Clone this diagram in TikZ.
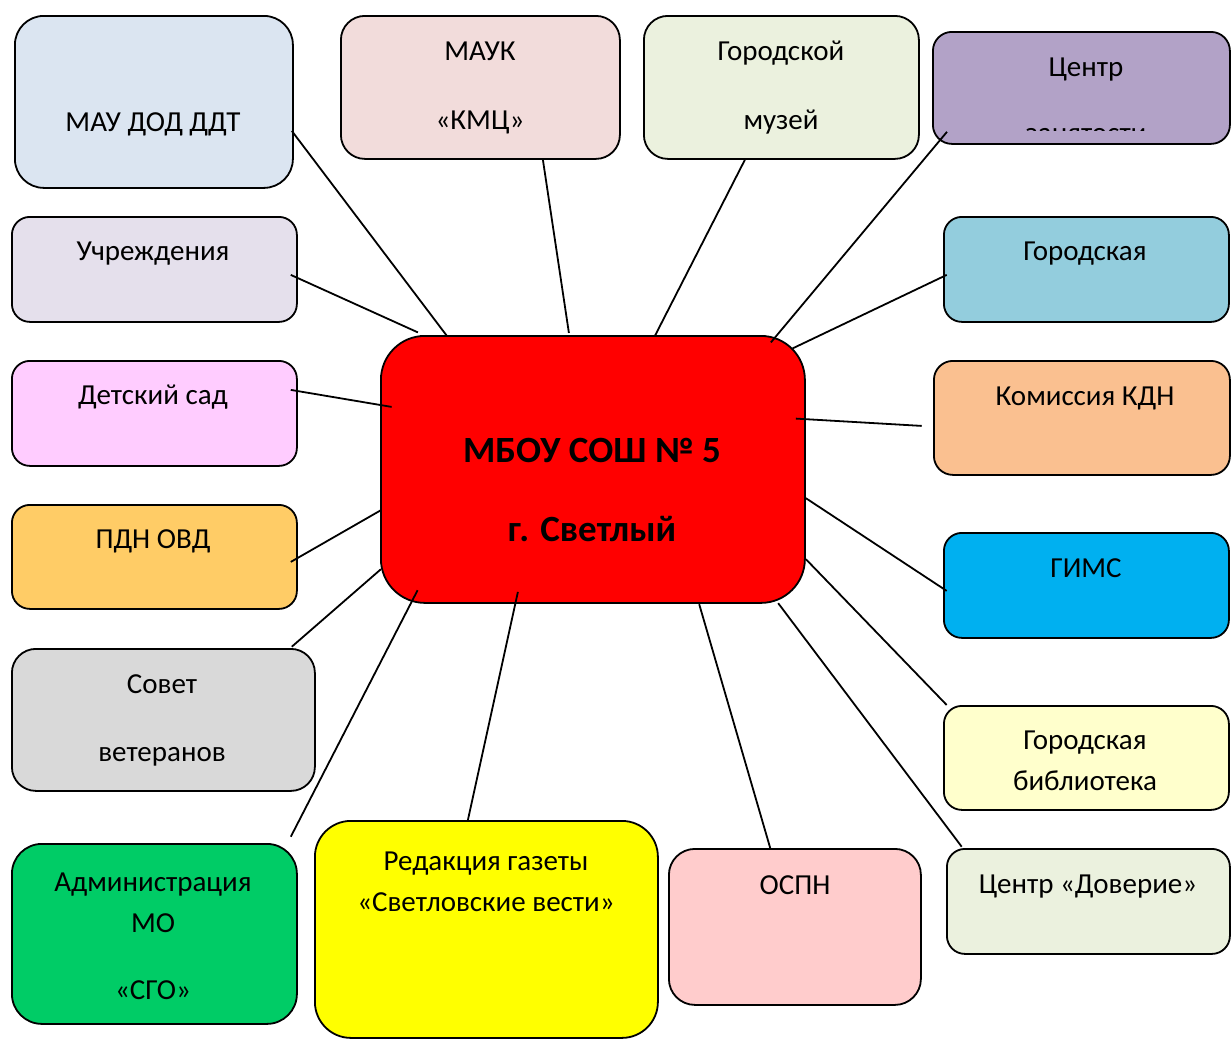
\documentclass[tikz,border=0pt]{standalone}
\usepackage{fontspec}
\setmainfont{Carlito}
\usetikzlibrary{calc}

\definecolor{ddtblue}{RGB}{219,229,241}
\definecolor{kmcpink}{RGB}{242,220,219}
\definecolor{paleolive}{RGB}{235,241,222}
\definecolor{lavender}{RGB}{178,162,199}
\definecolor{palelilac}{RGB}{229,224,236}
\definecolor{aqua}{RGB}{147,205,221}
\definecolor{pinklilac}{RGB}{255,204,255}
\definecolor{apricot}{RGB}{250,192,144}
\definecolor{goldish}{RGB}{255,204,102}
\definecolor{skyblue}{RGB}{0,176,240}
\definecolor{lightgrey}{RGB}{217,217,217}
\definecolor{cream}{RGB}{255,255,204}
\definecolor{grassgreen}{RGB}{0,204,102}
\definecolor{lemon}{RGB}{255,255,0}
\definecolor{rosepink}{RGB}{255,204,204}
\definecolor{schoolred}{RGB}{255,0,0}

\begin{document}
\begin{tikzpicture}[x=1pt,y=-1pt,
  box/.style={draw, line width=1.8pt, rounded corners=#1, anchor=north west, inner sep=0pt},
  lbl/.style={font=\fontsize{29}{41}\selectfont, align=center, anchor=base},
  link/.style={line width=1.8pt}]
  \useasboundingbox (0,0) rectangle (1231,1039);

  % partner boxes
  \node[box=29, fill=ddtblue,    minimum width=278, minimum height=172] (ddt)     at (14,15)  {};
  \node[box=24, fill=kmcpink,    minimum width=279, minimum height=143] (kmc)     at (340,15) {};
  \node[box=24, fill=paleolive,  minimum width=275, minimum height=143] (muzej)   at (643,15) {};
  \node[box=19, fill=lavender,   minimum width=297, minimum height=112] (centr)   at (932,31) {};
  \node[box=18, fill=palelilac,  minimum width=285, minimum height=105] (uchr)    at (11,216) {};
  \node[box=18, fill=aqua,       minimum width=285, minimum height=105] (gorod)   at (943,216) {};
  \node[box=18, fill=pinklilac,  minimum width=285, minimum height=105] (sad)     at (11,360) {};
  \node[box=19, fill=apricot,    minimum width=296, minimum height=114] (kdn)     at (933,360) {};
  \node[box=18, fill=goldish,    minimum width=285, minimum height=104] (pdn)     at (11,504) {};
  \node[box=18, fill=skyblue,    minimum width=285, minimum height=105] (gims)    at (943,532) {};
  \node[box=24, fill=lightgrey,  minimum width=303, minimum height=142] (sovet)   at (11,648) {};
  \node[box=18, fill=cream,      minimum width=285, minimum height=104] (bibl)    at (943,705) {};
  \node[box=30, fill=grassgreen, minimum width=285, minimum height=180] (adm)     at (11,843) {};
  \node[box=36, fill=lemon,      minimum width=343, minimum height=217] (red)     at (314,820) {};
  \node[box=26, fill=rosepink,   minimum width=252, minimum height=156] (ospn)    at (668,848) {};
  \node[box=18, fill=paleolive,  minimum width=283, minimum height=105] (doverie) at (946,848) {};

  % school in the middle
  \node[box=44, fill=schoolred, minimum width=424, minimum height=267] (school) at (380,335) {};

  % texts (base = last line)
  \node[lbl] (ddt-t)     at (153,131)  {МАУ ДОД ДДТ};
  \node[lbl] (kmc-t)     at (480,129)  {МАУК\\[28pt]«КМЦ»};
  \node[lbl] (muzej-t)   at (781,129)  {Городской\\[28pt]музей};
  \node[lbl] (centr-t)   at (1086,76)  {Центр};
  \begin{scope}
    \clip (932,31) rectangle (1231,130);
    \node[lbl] (centr-t2) at (1086,142.5) {занятости};
  \end{scope}
  \node[lbl] (uchr-t)    at (153,260)  {Учреждения};
  \node[lbl] (gorod-t)   at (1085,260) {Городская};
  \node[lbl] (sad-t)     at (153,404)  {Детский сад};
  \node[lbl] (kdn-t)     at (1085,405) {Комиссия КДН};
  \node[lbl] (pdn-t)     at (153,548)  {ПДН ОВД};
  \node[lbl] (gims-t)    at (1086,577) {ГИМС};
  \node[lbl] (sovet-t)   at (162,761)  {Совет\\[27pt]ветеранов};
  \node[lbl] (bibl-t)    at (1085,790) {Городская\\библиотека};
  \node[lbl] (adm-t)     at (153,999)  {Администрация\\МО\\[26pt]«СГО»};
  \node[lbl] (red-t)     at (486,911)  {Редакция газеты\\«Светловские вести»};
  \node[lbl] (ospn-t)    at (795,894)  {ОСПН};
  \node[lbl] (doverie-t) at (1088,893) {Центр «Доверие»};
  \node[lbl, font=\bfseries\fontsize{37}{79}\selectfont] (school-t) at (592,541) {МБОУ СОШ № 5\\г. Светлый};

  % links to the school
  \draw[link] ([shift={(-2,29)}]ddt.east)          -- ([shift={(-146,-133.5)}]school.center);
  \draw[link] ([shift={(62.5,0)}]kmc.south)        -- ([shift={(-24,-136.5)}]school.center);
  \draw[link] ([shift={(-36.5,0)}]muzej.south)     -- ([shift={(62,-133.5)}]school.center);
  \draw[link] ([shift={(15,-13)}]centr.south west) -- ([shift={(178,-127)}]school.center);
  \draw[link] ([shift={(-7,5.5)}]uchr.east)        -- ([shift={(-175,-137)}]school.center);
  \draw[link] ([shift={(3.7,5.5)}]gorod.west)      -- ([shift={(199.7,-121)}]school.center);
  \draw[link] ([shift={(-7,-23.5)}]sad.east)       -- ([shift={(-201.3,-62.5)}]school.center);
  \draw[link] ([shift={(-11.3,8)}]kdn.west)        -- ([shift={(203,-50.8)}]school.center);
  \draw[link] ([shift={(-7,5)}]pdn.east)           -- ([shift={(-212,40.8)}]school.center);
  \draw[link] ([shift={(3.7,5.5)}]gims.west)       -- ([shift={(213,28.8)}]school.center);
  \draw[link] ([shift={(-24,-1.3)}]sovet.north east) -- ([shift={(-212,99.8)}]school.center);
  \draw[link] ([shift={(3.7,0)}]bibl.north west)   -- ([shift={(213,89.8)}]school.center);
  \draw[link] ([shift={(-7,-6.3)}]adm.north east)  -- ([shift={(-175.3,120.8)}]school.center);
  \draw[link] ([shift={(-18.5,0)}]red.north)       -- ([shift={(-75,122.5)}]school.center);
  \draw[link] ([shift={(-24.7,0)}]ospn.north)      -- ([shift={(106.3,134.8)}]school.center);
  \draw[link] ([shift={(15.7,-1.3)}]doverie.north west) -- ([shift={(185.3,133.8)}]school.center);
\end{tikzpicture}
\end{document}
